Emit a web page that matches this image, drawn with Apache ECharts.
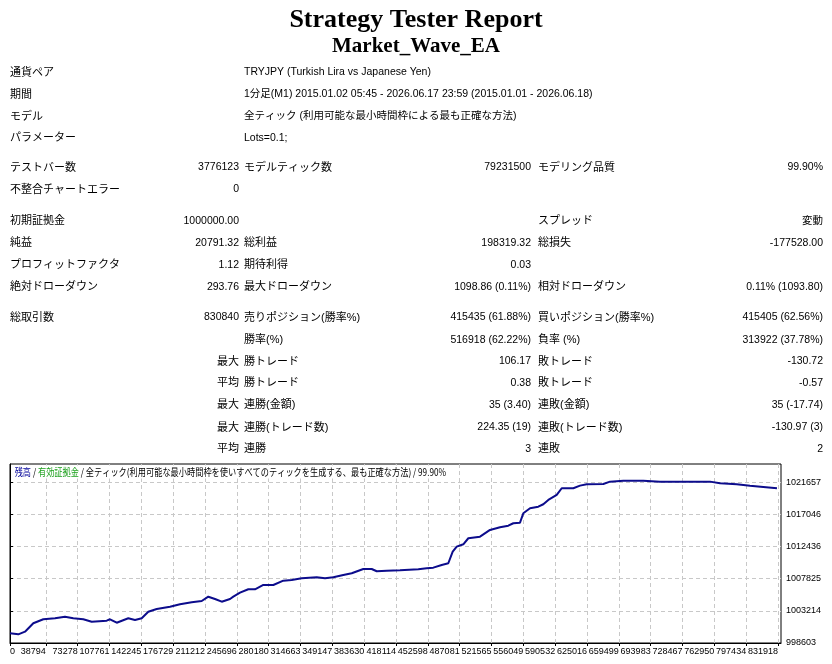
<!DOCTYPE html>
<html>
<head>
<meta charset="utf-8">
<title>Strategy Tester Report</title>
<script src="https://cdn.jsdelivr.net/npm/echarts@6/dist/echarts.min.js"></script>
<style>
  html, body { margin: 0; padding: 0; background: #fff; }
  #main { width: 832px; height: 664px; }
</style>
</head>
<body>
<div id="main"></div>
<script>
// report header
const reportTitle = 'Strategy Tester Report';
const expertName = 'Market_Wave_EA';

const headerRows = [
    ['通貨ペア', 'TRYJPY (Turkish Lira vs Japanese Yen)'],
    ['期間', '1分足(M1) 2015.01.02 05:45 - 2026.06.17 23:59 (2015.01.01 - 2026.06.18)'],
    ['モデル', '全ティック (利用可能な最小時間枠による最も正確な方法)'],
    ['パラメーター', 'Lots=0.1;']
];

// label1, value1, label2, value2, label3, value3
const statRows = [
    ['テストバー数', '3776123', 'モデルティック数', '79231500', 'モデリング品質', '99.90%'],
    ['不整合チャートエラー', '0', '', '', '', ''],
    ['初期証拠金', '1000000.00', '', '', 'スプレッド', '変動'],
    ['純益', '20791.32', '総利益', '198319.32', '総損失', '-177528.00'],
    ['プロフィットファクタ', '1.12', '期待利得', '0.03', '', ''],
    ['絶対ドローダウン', '293.76', '最大ドローダウン', '1098.86 (0.11%)', '相対ドローダウン', '0.11% (1093.80)'],
    ['総取引数', '830840', '売りポジション(勝率%)', '415435 (61.88%)', '買いポジション(勝率%)', '415405 (62.56%)'],
    ['', '', '勝率(%)', '516918 (62.22%)', '負率 (%)', '313922 (37.78%)'],
    ['', '最大', '勝トレード', '106.17', '敗トレード', '-130.72'],
    ['', '平均', '勝トレード', '0.38', '敗トレード', '-0.57'],
    ['', '最大', '連勝(金額)', '35 (3.40)', '連敗(金額)', '35 (-17.74)'],
    ['', '最大', '連勝(トレード数)', '224.35 (19)', '連敗(トレード数)', '-130.97 (3)'],
    ['', '平均', '連勝', '3', '連敗', '2']
];

// chart legend line
const legendBalance = '残高';
const legendEquity = '有効証拠金';
const legendModel = '全ティック(利用可能な最小時間枠を使いすべてのティックを生成する、最も正確な方法)';
const legendQuality = '99.90%';

// balance curve (trade number, balance)
const tradeNo = [0, 9000, 16250, 25240, 36070, 48750, 59580, 68570, 79400, 88500,
    104750, 108330, 115590, 128150, 135410, 142670, 149820, 158920, 173330, 184160,
    196840, 207670, 214820, 222080, 229340, 238330, 241900, 249160, 258150, 265410,
    274400, 285230, 296070, 305160, 316000, 332250, 341240, 350230, 361070, 370170,
    382730, 391840, 397250, 408080, 422490, 442310, 451410, 458560, 467660, 474810,
    476650, 479570, 483900, 491060, 496480, 509150, 519980, 530820, 539810, 545230,
    552480, 556060, 563320, 572310, 577730, 583140, 592240, 597650, 610220, 617480,
    624740, 642720, 649980, 664380, 686050, 704150, 743900, 758310, 769140, 787240,
    801640, 816050, 830840];
const balance = [1000000, 999850, 1000225, 1001430, 1002004, 1002147, 1002377, 1002147, 1002004, 1001660,
    1001803, 1002004, 1001516, 1002147, 1001903, 1002147, 1003095, 1003482, 1003812, 1004156,
    1004443, 1004630, 1005247, 1004917, 1004530, 1004917, 1005247, 1005821, 1006309, 1006309,
    1006926, 1006926, 1007543, 1007644, 1007887, 1008031, 1007887, 1008031, 1008361, 1008605,
    1009222, 1009222, 1008892, 1008978, 1009035, 1009179, 1009322, 1009409, 1009796, 1010040,
    1010183, 1011705, 1012422, 1012766, 1013627, 1013857, 1014819, 1015206, 1015436, 1015780,
    1015866, 1017215, 1017932, 1018162, 1018506, 1019124, 1019841, 1020802, 1020802, 1021176,
    1021376, 1021420, 1021750, 1021893, 1021893, 1021750, 1021750, 1021750, 1021520, 1021376,
    1021176, 1020989, 1020791];

const xTicks = [0, 38794, 73278, 107761, 142245, 176729, 211212, 245696, 280180, 314663,
    349147, 383630, 418114, 452598, 487081, 521565, 556049, 590532, 625016, 659499,
    693983, 728467, 762950, 797434, 831918];
const yTicks = [998603, 1003214, 1007825, 1012436, 1017046, 1021657];

// layout
const valueFont = '10.5px "Liberation Sans", "Noto Sans CJK JP", sans-serif';
const labelFont = '11px "Liberation Sans", "Noto Sans CJK JP", sans-serif';
const headerY = [72.5, 94.5, 116.5, 138];
const statY = [167.5, 189.5, 221, 243, 265, 287, 317.5, 340, 361.5, 383, 405, 427.5, 449];
const colX = [10, 239, 244, 531, 538, 823];
const colAlign = ['left', 'right', 'left', 'right', 'left', 'right'];

function textEl(str, x, y, align, font, color) {
    return {
        type: 'text',
        silent: true,
        style: {
            text: str,
            x: x,
            y: y,
            textAlign: align,
            textVerticalAlign: 'middle',
            font: font || valueFont,
            fill: color || '#000'
        }
    };
}

let elements = [];
elements.push(textEl(reportTitle, 416, 20, 'center', 'bold 26px "Liberation Serif", serif'));
elements.push(textEl(expertName, 416, 47, 'center', 'bold 21px "Liberation Serif", serif'));

for (let i = 0; i < headerRows.length; i++) {
    elements.push(textEl(headerRows[i][0], 10, headerY[i], 'left', labelFont));
    elements.push(textEl(headerRows[i][1], 244, headerY[i], 'left', valueFont));
}

for (let i = 0; i < statRows.length; i++) {
    let row = statRows[i];
    for (let j = 0; j < row.length; j++) {
        if (row[j] !== '') {
            let font = (j % 2 === 0 || i >= 8 && j === 1) ? labelFont : valueFont;
            elements.push(textEl(row[j], colX[j], statY[i], colAlign[j], font));
        }
    }
}

// legend inside the chart frame
elements.push({
    type: 'text',
    silent: true,
    x: 13,
    y: 472,
    scaleX: 0.82,
    z: 10,
    style: {
        text: '{b|' + legendBalance + '} / {g|' + legendEquity + '} / ' + legendModel + ' / ' + legendQuality,
        x: 0,
        y: 0,
        textVerticalAlign: 'middle',
        font: '10px "Noto Sans CJK JP", sans-serif',
        fill: '#000',
        backgroundColor: '#fff',
        padding: [2, 2, 1, 2],
        rich: {
            b: { fill: '#000099', font: '10px "Noto Sans CJK JP", sans-serif' },
            g: { fill: '#1a9f1a', font: '10px "Noto Sans CJK JP", sans-serif' }
        }
    }
});

let lineData = [];
for (let i = 0; i < tradeNo.length; i++) {
    lineData.push([tradeNo[i], balance[i]]);
}

let axisFont = {
    fontFamily: '"Liberation Sans", sans-serif',
    fontSize: 9,
    color: '#000'
};
let gridLine = {
    show: true,
    lineStyle: { color: '#c8c8c8', width: 1, type: [4, 3] }
};

let chart = echarts.init(document.getElementById('main'), null, { renderer: 'canvas' });
let option = {
    animation: false,
    backgroundColor: '#fff',
    grid: {
        left: 10,
        top: 464,
        right: 51,
        bottom: 21,
        show: true,
        borderColor: '#000',
        borderWidth: 1,
        backgroundColor: '#fff'
    },
    xAxis: {
        type: 'value',
        min: 0,
        max: 835200,
        axisLine: { show: true, lineStyle: { color: '#000', width: 1 } },
        axisTick: { show: true, length: 3, customValues: xTicks, lineStyle: { color: '#000' } },
        axisLabel: Object.assign({
            customValues: xTicks,
            align: 'right',
            alignMinLabel: 'left',
            margin: 4,
            formatter: function (v) { return String(v); }
        }, axisFont),
        splitLine: gridLine
    },
    yAxis: {
        type: 'value',
        position: 'right',
        min: 998603,
        max: 1024280,
        axisLine: { show: true, lineStyle: { color: '#000', width: 1 } },
        axisTick: { show: true, length: 3, customValues: yTicks, lineStyle: { color: '#000' } },
        axisLabel: Object.assign({
            customValues: yTicks,
            margin: 5,
            formatter: function (v) { return String(v); }
        }, axisFont),
        splitLine: gridLine
    },
    series: [
        {
            type: 'line',
            data: lineData,
            symbol: 'none',
            lineStyle: { color: '#0c0c8c', width: 2 }
        }
    ],
    graphic: { elements: elements }
};
chart.setOption(option);
</script>
</body>
</html>
